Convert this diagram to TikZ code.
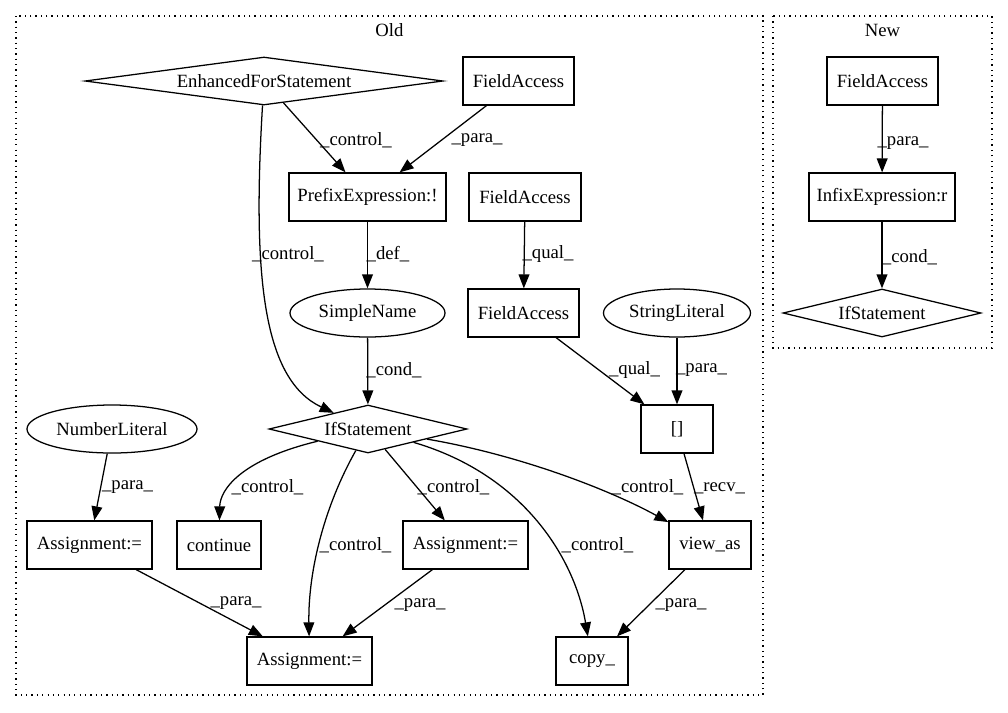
\documentclass[tikz,border=0pt]{standalone}
\usepackage{fontspec}
\setmainfont{Liberation Serif}
\usepackage{tikz}
\usetikzlibrary{shapes.geometric,arrows.meta}

\begin{document}
\begin{tikzpicture}[
  font=\fontsize{13.3}{16}\selectfont,
  line width=0.9pt,
  >={Triangle[length=0.35cm,width=0.27cm]},
  box/.style={draw, rectangle, inner sep=0pt, minimum height=1.2cm},
  oval/.style={draw, ellipse, inner sep=0pt, minimum height=1.2cm},
  diam/.style={draw, diamond, inner sep=0pt, aspect=4, minimum height=1.2cm, minimum width=4.95cm},
  lbl/.style={inner sep=0pt},
  clus/.style={dash pattern=on 0.9pt off 2.9pt}
]
\useasboundingbox (0cm,0cm) rectangle (25.2cm,-17.8cm);
% clusters
\draw[clus] (0.4cm,-0.4cm) rectangle (19.075cm,-17.375cm);
\draw[clus] (19.325cm,-0.4cm) rectangle (24.8cm,-8.7cm);
\node[lbl] (old) at (9.7375cm,-0.75cm) {Old};
\node[lbl] (new) at (22.06cm,-0.75cm) {New};

% old
\node[diam, aspect=7.5, minimum width=8.95cm] (efor) at (6.6cm,-2.025cm) {EnhancedForStatement};
\node[box, minimum width=2.775cm] (fa1) at (12.9625cm,-2.025cm) {FieldAccess};
\node[box, minimum width=3.925cm] (prefix) at (9.1875cm,-4.925cm) {PrefixExpression:!};
\node[box, minimum width=2.8cm] (fa2) at (13.125cm,-4.925cm) {FieldAccess};
\node[oval, minimum width=3.875cm] (sname) at (9.1875cm,-7.825cm) {SimpleName};
\node[box, minimum width=2.775cm] (fa3) at (13.0875cm,-7.825cm) {FieldAccess};
\node[oval, minimum width=3.675cm] (slit) at (16.925cm,-7.825cm) {StringLiteral};
\node[diam] (ifs) at (9.2cm,-10.725cm) {IfStatement};
\node[box, minimum width=1.8cm] (idx) at (16.925cm,-10.725cm) {[]};
\node[oval, minimum width=4.25cm] (nlit) at (2.8cm,-10.725cm) {NumberLiteral};
\node[box, minimum width=3.125cm] (asg1) at (2.2375cm,-13.625cm) {Assignment:=};
\node[box, minimum width=2.1cm] (cont) at (5.475cm,-13.625cm) {continue};
\node[box, minimum width=3.125cm] (asg2) at (11.6375cm,-13.625cm) {Assignment:=};
\node[box, minimum width=2.05cm] (view) at (17.75cm,-13.625cm) {view\_as};
\node[box, minimum width=3.125cm] (asg3) at (7.7375cm,-16.525cm) {Assignment:=};
\node[box, minimum width=1.8cm] (copy) at (14.8cm,-16.525cm) {copy\_};

\draw[->] (efor) -- (prefix) node[lbl] at (8.9cm,-3.5cm) {\_control\_};
\draw[->] (fa1) -- (prefix) node[lbl] at (11.925cm,-3.5cm) {\_para\_};
\draw[->] (efor) .. controls (6.3cm,-7cm) and (6.6cm,-9.5cm) .. (ifs) node[lbl] at (7.2cm,-6.35cm) {\_control\_};
\draw[->] (prefix) -- (sname) node[lbl] at (9.7cm,-6.35cm) {\_def\_};
\draw[->] (fa2) -- (fa3) node[lbl] at (13.7cm,-6.35cm) {\_qual\_};
\draw[->] (sname) -- (ifs) node[lbl] at (9.85cm,-9.25cm) {\_cond\_};
\draw[->] (fa3) -- (idx) node[lbl] at (15.8625cm,-9.25cm) {\_qual\_};
\draw[->] (slit) -- (idx) node[lbl] at (17.5375cm,-9.25cm) {\_para\_};
\draw[->] (idx) -- (view) node[lbl] at (17.9875cm,-12.2cm) {\_recv\_};
\draw[->] (nlit) -- (asg1) node[lbl] at (3.1875cm,-12.175cm) {\_para\_};
\draw[->] (ifs) .. controls (6cm,-11.5cm) and (5.5cm,-12.25cm) .. (cont) node[lbl] at (6.6875cm,-12.175cm) {\_control\_};
\draw[->] (ifs) .. controls (8.125cm,-12.625cm) and (7.7cm,-14.25cm) .. (asg3) node[lbl] at (8.8875cm,-13.625cm) {\_control\_};
\draw[->] (ifs) -- (asg2) node[lbl] at (11.3375cm,-12.175cm) {\_control\_};
\draw[->] (ifs) .. controls (13cm,-11.375cm) and (15.25cm,-12.25cm) .. (view) node[lbl] at (16.1875cm,-12.175cm) {\_control\_};
\draw[->] (ifs) .. controls (13.125cm,-11.875cm) and (14.375cm,-14cm) .. (copy) node[lbl] at (14.9375cm,-13.625cm) {\_control\_};
\draw[->] (asg1) -- (asg3) node[lbl] at (5.9cm,-15.075cm) {\_para\_};
\draw[->] (asg2) -- (asg3) node[lbl] at (10.5cm,-15.125cm) {\_para\_};
\draw[->] (view) -- (copy) node[lbl] at (17.025cm,-15.125cm) {\_para\_};

% new
\node[box, minimum width=2.775cm] (nfa) at (22.0625cm,-2.025cm) {FieldAccess};
\node[box, minimum width=3.65cm] (infix) at (22.05cm,-4.925cm) {InfixExpression:r};
\node[diam] (nifs) at (22.05cm,-7.825cm) {IfStatement};
\draw[->] (nfa) -- (infix) node[lbl] at (22.575cm,-3.575cm) {\_para\_};
\draw[->] (infix) -- (nifs) node[lbl] at (22.7375cm,-6.425cm) {\_cond\_};
\end{tikzpicture}
\end{document}
